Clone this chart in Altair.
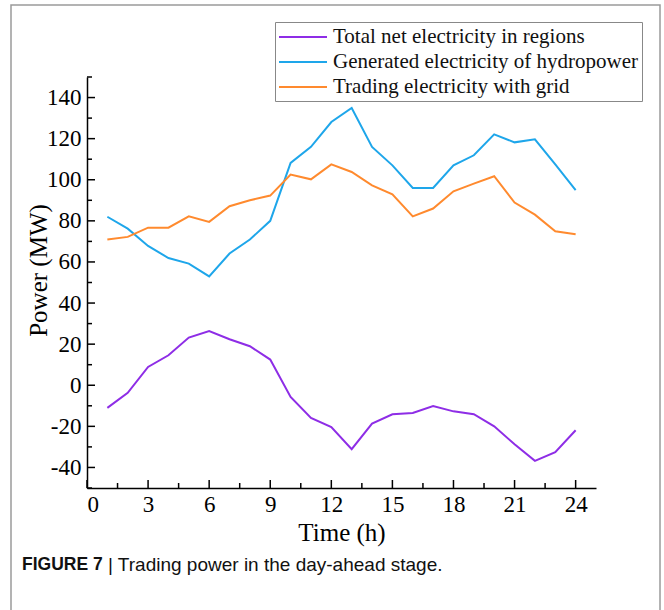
import altair as alt
import pandas as pd

# ---- data ----
hours = list(range(1, 25))
series_names = [
    "Total net electricity in regions",
    "Generated electricity of hydropower",
    "Trading electricity with grid",
]
net_values = [-11, -3.7, 8.9, 14.6, 23.2, 26.4, 22.4, 19, 12.5, -5.7, -15.9, -20.3,
              -31.1, -18.7, -14.1, -13.5, -10.1, -12.7, -14.1, -20, -28.7, -36.8, -32.6, -21.9]
hydro_values = [82, 76.2, 67.8, 61.9, 59.2, 53, 64.1, 70.9, 80, 108.2, 116, 128.1,
                134.9, 116, 107, 96, 96, 107, 111.9, 122.1, 118.2, 119.7, 107.5, 94.9]
trade_values = [70.9, 72.2, 76.7, 76.7, 82.2, 79.5, 87.1, 90, 92.3, 102.5, 100.2, 107.5,
                103.8, 97.3, 92.9, 82.2, 86, 94.4, 98.1, 101.7, 88.9, 83, 74.9, 73.5]
series_colors = ["#8E2DE6", "#1EA6EA", "#FF8A2E"]

x_major = [0, 3, 6, 9, 12, 15, 18, 21, 24]
x_minor = [1.5, 4.5, 7.5, 10.5, 13.5, 16.5, 19.5, 22.5]
y_major = [-40, -20, 0, 20, 40, 60, 80, 100, 120, 140]
y_minor = [-50, -30, -10, 10, 30, 50, 70, 90, 110, 130, 150]

caption_bold = ["FIGURE 7"]
caption_rest = ["| Trading power in the day-ahead stage."]

# ---- tables ----
rows = []
for name, vals in zip(series_names, [net_values, hydro_values, trade_values]):
    for h, v in zip(hours, vals):
        rows.append({"hour": h, "value": v, "series": name})
df = pd.DataFrame(rows)

W, H = 509, 411
serif = "Liberation Serif"

x_scale = alt.Scale(domain=[0, 25], nice=False, zero=False)
y_scale = alt.Scale(domain=[-50, 150], nice=False, zero=False)

lines = alt.Chart(df).mark_line(strokeWidth=2).encode(
    x=alt.X("hour:Q", scale=x_scale,
            axis=alt.Axis(values=x_major, title="Time (h)", labelExpr="'' + datum.value",
                          labelPadding=5, titlePadding=4)),
    y=alt.Y("value:Q", scale=y_scale,
            axis=alt.Axis(values=y_major, title="Power (MW)", labelExpr="'' + datum.value",
                          labelPadding=6, titleX=-49, titleY=193,
                          titleBaseline="middle", titleAlign="center", titleAngle=270)),
    color=alt.Color(
        "series:N",
        scale=alt.Scale(domain=series_names, range=series_colors),
        legend=alt.Legend(
            title=None, orient="none", legendX=188, legendY=-55,
            symbolType="M-2.4,0H2.4", symbolSize=400, symbolStrokeWidth=2,
            symbolOffset=13, labelOffset=19,
            labelFont=serif, labelFontSize=21, labelColor="#111",
            labelLimit=500, padding=4, rowPadding=4,
            strokeColor="#888", fillColor="white",
        ),
    ),
)

ymaj = alt.Chart(pd.DataFrame({"value": y_major})).mark_rule(color="black", strokeWidth=1.5).encode(
    y=alt.Y("value:Q", scale=y_scale), x=alt.value(0), x2=alt.value(8))
ymin = alt.Chart(pd.DataFrame({"value": y_minor})).mark_rule(color="black", strokeWidth=1.5).encode(
    y=alt.Y("value:Q", scale=y_scale), x=alt.value(0), x2=alt.value(5))
xmaj = alt.Chart(pd.DataFrame({"hour": x_major})).mark_rule(color="black", strokeWidth=1.5).encode(
    x=alt.X("hour:Q", scale=x_scale), y=alt.value(H), y2=alt.value(H - 8))
xmin = alt.Chart(pd.DataFrame({"hour": x_minor})).mark_rule(color="black", strokeWidth=1.5).encode(
    x=alt.X("hour:Q", scale=x_scale), y=alt.value(H), y2=alt.value(H - 5))

one = pd.DataFrame({"k": [0]})
frame = alt.Chart(one).mark_rect(fill=None, stroke="#9a9a9a", strokeWidth=1.5).encode(
    x=alt.value(-76), x2=alt.value(573), y=alt.value(-72), y2=alt.value(545))

cap1 = alt.Chart(pd.DataFrame({"t": caption_bold})).mark_text(
    align="left", baseline="middle", font="Liberation Sans", fontSize=17.5,
    fontWeight="bold", color="#111").encode(
    text="t:N", x=alt.value(-65), y=alt.value(488))
cap2 = alt.Chart(pd.DataFrame({"t": caption_rest})).mark_text(
    align="left", baseline="middle", font="Liberation Sans", fontSize=19,
    color="#111").encode(
    text="t:N", x=alt.value(21), y=alt.value(488))

chart = alt.layer(frame, lines, ymaj, ymin, xmaj, xmin, cap1, cap2).properties(
    width=W, height=H,
    autosize=alt.AutoSizeParams(type="none"),
    padding={"left": 87, "top": 77, "right": 68, "bottom": 122},
    background="white",
).configure_view(stroke=None).configure_axis(
    grid=False, ticks=False, tickSize=0,
    domainColor="black", domainWidth=1.5,
    labelFont=serif, labelFontSize=23, labelColor="black",
    titleFont=serif, titleFontSize=25, titleFontWeight="normal", titleColor="black",
)

chart.save("out.html", embed_options={"renderer": "svg", "actions": False})
